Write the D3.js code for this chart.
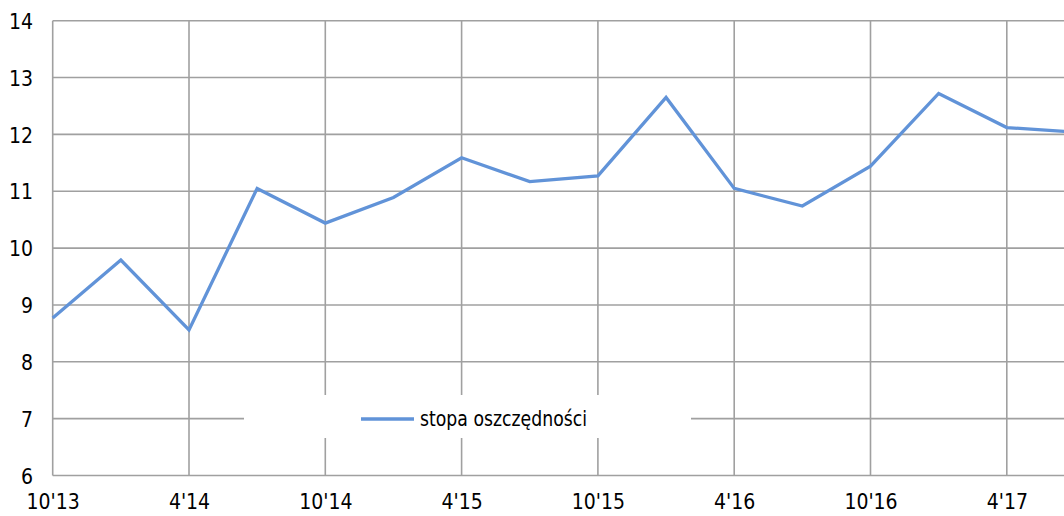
<!DOCTYPE html>
<html>
<head>
<meta charset="utf-8">
<script src="https://cdn.jsdelivr.net/npm/d3@7/dist/d3.min.js"></script>
<style>
  html, body { margin: 0; padding: 0; background: #fff; overflow: hidden; }
  svg { display: block; }
  text { font-family: "DejaVu Sans Condensed", "DejaVu Sans", sans-serif; fill: #000; }
</style>
</head>
<body>
<svg id="chart" width="1064" height="516"></svg>
<script>
// Quarterly periods (month'year)
const categories = ["10'13", "1'14", "4'14", "7'14", "10'14", "1'15", "4'15", "7'15",
                    "10'15", "1'16", "4'16", "7'16", "10'16", "1'17", "4'17", "7'17"];
// Savings rate, %
const savingsRate = [8.77, 9.79, 8.56, 11.05, 10.44, 10.89, 11.59, 11.17,
                     11.27, 12.65, 11.05, 10.74, 11.44, 12.72, 12.12, 12.04];
// Only every second period is labelled on the axis
const xTickLabels = ["10'13", "4'14", "10'14", "4'15", "10'15", "4'16", "10'16", "4'17"];
const yTicks = [6, 7, 8, 9, 10, 11, 12, 13, 14];
const seriesName = "stopa oszczędności";

const svg = d3.select("#chart");
const gridColor = "#a0a0a0";
const lineColor = "#6193d8";
const fontStack = '"DejaVu Sans Condensed", "DejaVu Sans", sans-serif';

const plotLeft = 52.7, plotTop = 20.7, plotBottom = 475.5;
const step = 68.15;
const plotRight = plotLeft + step * (categories.length - 1);

const x = d3.scalePoint().domain(categories).range([plotLeft, plotRight]);
const y = d3.scaleLinear().domain([6, 14]).range([plotBottom, plotTop]);

// Horizontal gridlines
svg.append("g").selectAll("line").data(yTicks).join("line")
  .attr("x1", plotLeft).attr("x2", plotRight + 20)
  .attr("y1", d => y(d)).attr("y2", d => y(d))
  .attr("stroke", gridColor).attr("stroke-width", 1.6);

// Vertical gridlines at labelled periods (first one doubles as the y axis)
svg.append("g").selectAll("line").data(xTickLabels).join("line")
  .attr("x1", d => x(d)).attr("x2", d => x(d))
  .attr("y1", plotTop).attr("y2", plotBottom)
  .attr("stroke", gridColor).attr("stroke-width", 1.6);

// Y axis labels
const yAxis = d3.axisLeft(y).tickValues(yTicks).tickSize(0).tickPadding(0).tickFormat(d3.format("d"));
svg.append("g").attr("transform", "translate(33,1)").call(yAxis)
  .call(g => g.select(".domain").remove())
  .selectAll("text").style("font-size", "21px")
  .style("font-family", fontStack).attr("fill", "#000");

// X axis labels
const xAxis = d3.axisBottom(x).tickValues(xTickLabels).tickSize(0).tickPadding(0);
svg.append("g").attr("transform", `translate(0,${plotBottom + 19})`).call(xAxis)
  .call(g => g.select(".domain").remove())
  .selectAll("text").style("font-size", "21px")
  .style("font-family", fontStack).attr("fill", "#000");

// Series line
const line = d3.line().x((d, i) => x(categories[i])).y(d => y(d));
svg.append("path").datum(savingsRate)
  .attr("d", line)
  .attr("fill", "none")
  .attr("stroke", lineColor)
  .attr("stroke-width", 3.3)
  .attr("stroke-linejoin", "miter");

// Legend
const legend = svg.append("g");
legend.append("rect")
  .attr("x", 244).attr("y", 395).attr("width", 447).attr("height", 43)
  .attr("fill", "#fff");
legend.append("line")
  .attr("x1", 361).attr("x2", 414).attr("y1", 419).attr("y2", 419)
  .attr("stroke", lineColor).attr("stroke-width", 3.3);
legend.append("text")
  .attr("x", 420).attr("y", 419).attr("dy", "0.35em")
  .attr("textLength", 167).attr("lengthAdjust", "spacingAndGlyphs")
  .style("font-size", "21px")
  .text(seriesName);
</script>
</body>
</html>
